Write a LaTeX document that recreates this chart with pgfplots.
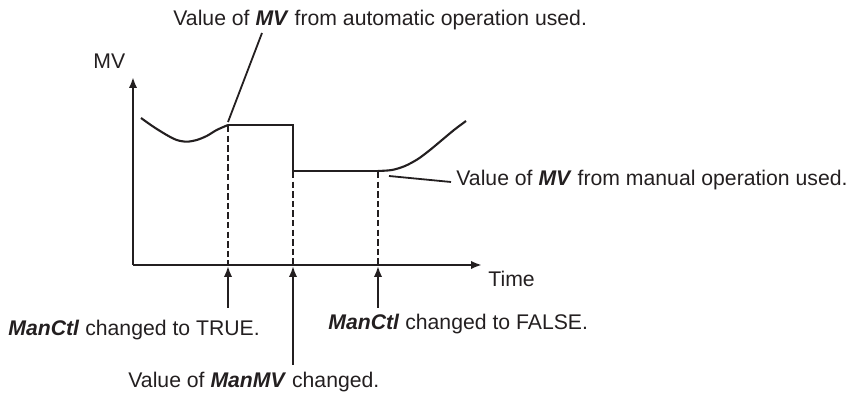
\documentclass[border=0pt]{standalone}
\usepackage{fontspec}
\setmainfont{Liberation Sans}
\usepackage{pgfplots}
\pgfplotsset{compat=1.18}
\usetikzlibrary{arrows.meta}
\definecolor{ink}{RGB}{35,31,32}

\begin{document}
\begin{tikzpicture}
\tikzset{lbl/.style={font=\fontsize{10.6}{12}\selectfont,text=ink,inner sep=0pt,anchor=base west},
  tip/.style={-{Latex[length=5.5pt,width=4.2pt]}}}
\begin{axis}[
  scale only axis,width=174.5pt,height=94pt,
  xmin=0,xmax=349,ymin=0,ymax=188,
  axis lines=left,ticks=none,clip=false,
  axis line style={ink,line width=1.1pt,-{Latex[length=5.5pt,width=4.2pt]}},
]
% curve of MV
\addplot[ink,line width=1.05pt,smooth,mark=none] coordinates {(8,147) (20.3,138.3) (33.7,130) (43.7,125) (53.7,123.3) (63.7,125) (73.7,129) (83.7,135) (95,140)};
\addplot[ink,line width=1.05pt,mark=none] coordinates {(95,140) (160,140) (160,94) (245,94)};
\addplot[ink,line width=1.05pt,smooth,mark=none] coordinates {(245,94) (259,95) (272,99) (285,106) (297,115) (309,125) (321,135) (333,144)};
% dashed guides
\addplot[ink,line width=1.1pt,dash pattern=on 3.2pt off 1.6pt,mark=none] coordinates {(95,139) (95,0)};
\addplot[ink,line width=1.1pt,dash pattern=on 3.2pt off 1.6pt,mark=none] coordinates {(160,93) (160,0)};
\addplot[ink,line width=1.1pt,dash pattern=on 3.2pt off 1.6pt,mark=none] coordinates {(245,93) (245,0)};
% arrows from below
\addplot[ink,line width=1pt,tip,mark=none] coordinates {(95,-43) (95,-1)};
\addplot[ink,line width=1pt,tip,mark=none] coordinates {(160,-100) (160,-1)};
\addplot[ink,line width=1pt,tip,mark=none] coordinates {(245,-43) (245,-1)};
% leader lines
\addplot[ink,line width=0.9pt,mark=none] coordinates {(95,143) (129,232)};
\addplot[ink,line width=0.9pt,mark=none] coordinates {(256,89) (318,83)};
% labels
\node[lbl] at (axis cs:40,239) {Value of \textbf{\textit{MV}} from automatic operation used.};
\node[lbl] at (axis cs:-40,196) {MV};
\node[lbl] at (axis cs:323,79) {Value of \textbf{\textit{MV}} from manual operation used.};
\node[lbl] at (axis cs:355,-22) {Time};
\node[lbl] at (axis cs:-125,-71) {\textbf{\textit{ManCtl}} changed to TRUE.};
\node[lbl] at (axis cs:195,-65) {\textbf{\textit{ManCtl}} changed to FALSE.};
\node[lbl] at (axis cs:-5,-123) {Value of \textbf{\textit{ManMV}} changed.};
% page frame
\path (axis cs:-133,265) rectangle (axis cs:719,-129);
\end{axis}
\end{tikzpicture}
\end{document}
